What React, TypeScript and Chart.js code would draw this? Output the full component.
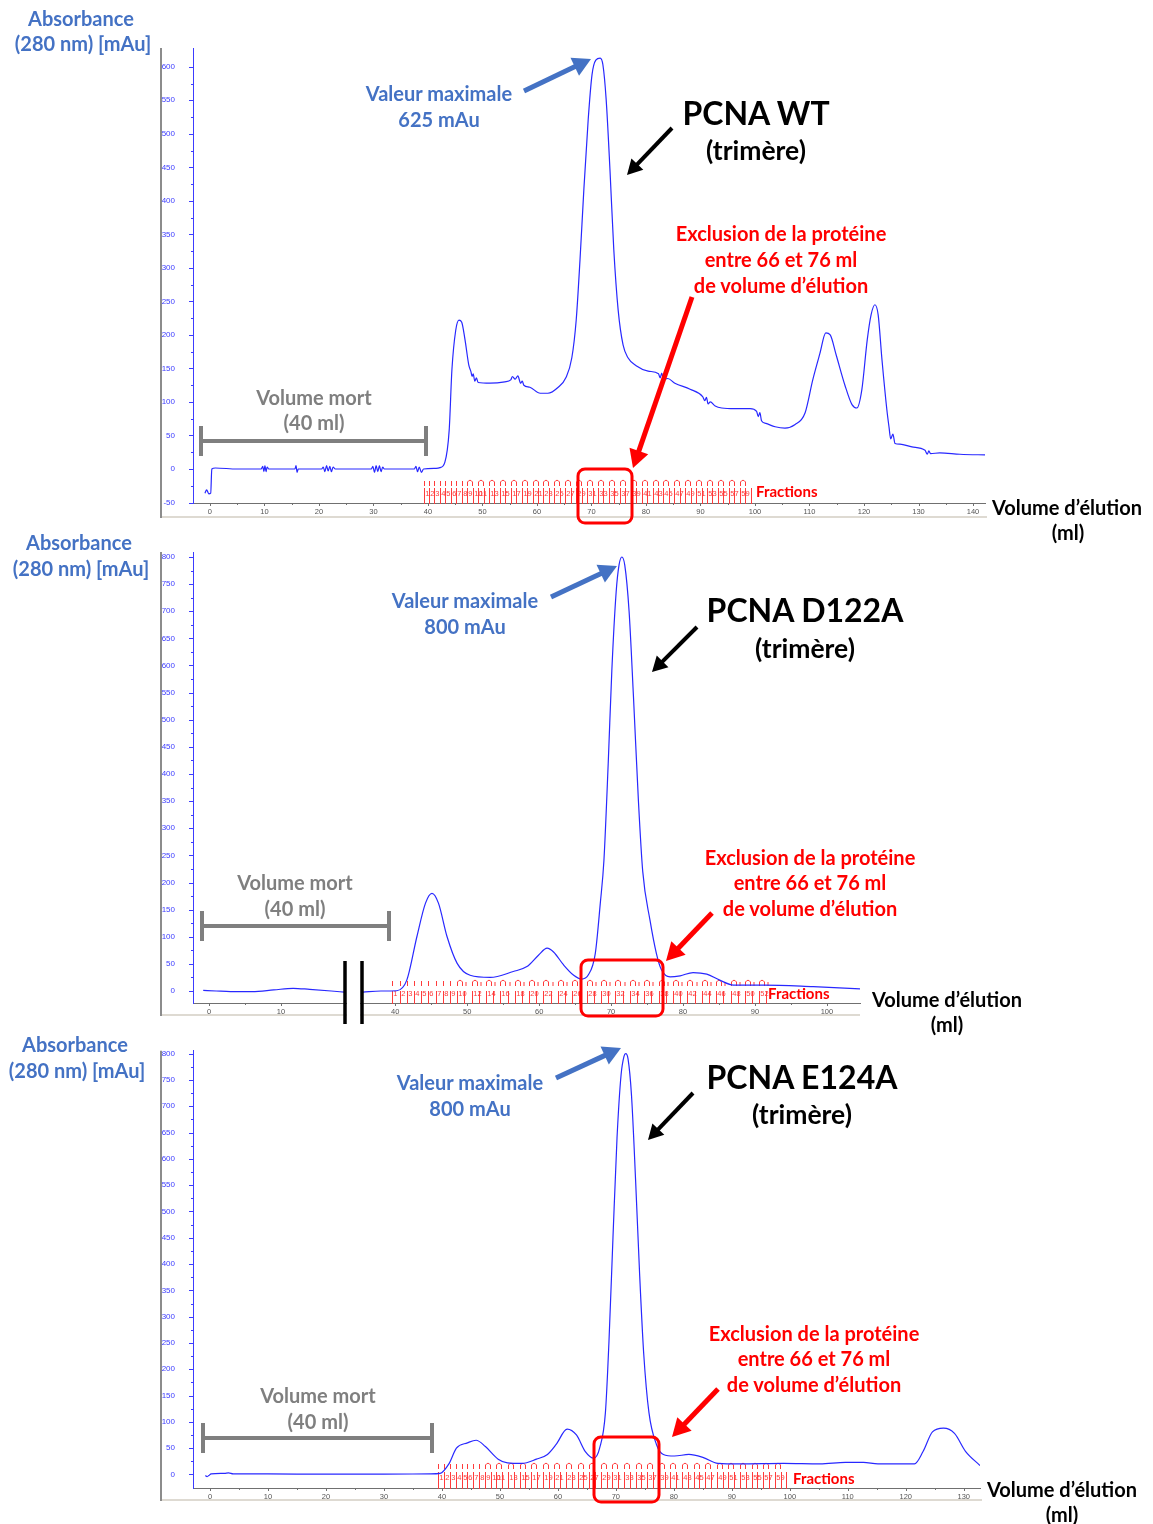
import React, { useEffect, useRef } from "react";
import { Chart, registerables } from "chart.js";

Chart.register(...registerables);

// ================= DATA =================
// ---- PCNA WT ----
const wtVolume = [
  -0.9, -0.6, -0.2, 0.15, 0.35, 1, 5,
  9.4, 9.7, 9.9, 10.1, 10.3, 10.5, 10.8,
  15.6, 15.8, 16.0, 16.2,
  20.5, 20.8, 21.1, 21.4, 21.7, 22.0, 22.3, 22.6, 23.0,
  29.6, 29.9, 30.2, 30.5, 30.8, 31.1, 31.4, 31.7, 32.0,
  37.5, 37.8, 38.1, 38.4, 38.8, 39.2,
  41.5, 42.2, 43.1, 43.9, 44.4, 45.1, 45.7, 46.2, 46.8, 47.5, 47.9, 48.1, 48.3, 48.6, 48.9, 49.2,
  51.4, 54.1, 55.2, 55.5, 56.0, 56.5, 57.0, 57.3, 57.6, 58.7, 60.6, 62.0, 63.9, 65.3,
  66.4, 67.2, 67.9, 68.6, 69.4, 70.1, 70.8, 71.6, 72.1, 72.7, 73.4, 74.1, 74.9, 75.8, 76.7,
  78.2, 80.4, 82.3, 82.6, 82.9, 83.2, 84.0, 85.3, 88.1, 90.4, 90.8, 91.1, 91.4, 91.8, 92.7, 93.9,
  96.3, 99.1, 100.3, 100.6, 100.9, 101.2, 102.0, 103.7, 105.5, 107.3, 109.2, 110.6, 111.9, 113.0,
  113.8, 114.9, 116.5, 117.8, 118.7, 119.6, 120.6, 121.3, 122.0, 122.6, 123.3, 124.2, 124.6, 124.9,
  125.3, 125.7, 126.6, 128.8, 131.2, 131.6, 131.9, 132.2, 133.9, 137.6, 142.6,
];
const wtAbsorbance = [
  -36, -31, -37, -36, 0, 1.5, 0,
  0, 4, -4, 5, -4, 3, 0,
  0, 5, -5, 0,
  0, 3, -4, 5, -3, 4, -4, 3, 0,
  0, 4, -5, 5, -4, 5, -4, 3, 0,
  0, 4, -4, 3, -5, 0,
  1, 2, 10, 58, 148, 207, 222, 219, 193, 155, 145, 138, 142, 131, 136, 129,
  128, 130, 133, 138, 134, 139, 128, 131, 125, 122, 113, 113, 122, 136,
  166, 222, 312, 416, 521, 588, 610, 613, 603, 551, 446, 327, 237, 185, 166,
  154, 146, 142, 136, 143, 134, 135, 128, 119, 108, 102, 107, 97, 100, 94, 91,
  90, 90, 86, 78, 84, 72, 68, 63, 61, 66, 84, 133, 172, 203,
  200, 170, 125, 96, 91, 118, 193, 230, 245, 230, 163, 88, 62, 45,
  52, 38, 37, 33, 28, 22, 27, 23, 24, 22, 21,
];
const wtYTicks = [-50, 0, 50, 100, 150, 200, 250, 300, 350, 400, 450, 500, 550, 600];
const wtXTicks = [0, 10, 20, 30, 40, 50, 60, 70, 80, 90, 100, 110, 120, 130, 140];
const wtFractionLabels = [
  1, 2, 3, 4, 5, 6, 7, 8, 9, 10, 11, 13, 15, 17, 19, 21, 23, 25, 27, 29, 31, 33, 35, 37, 39,
  41, 43, 45, 47, 49, 51, 53, 55, 57, 59,
];

// ---- PCNA D122A (axis broken between ~19 and ~35 ml) ----
const d122aVolume = [
  -0.8, 1, 3, 6, 9, 11.7, 14, 17, 18.8, 27,
  35.5, 38, 40.2, 41.6, 43, 44.2, 45.1, 46, 47.2, 48.6,
  50.4, 53.2, 56.4, 58.3, 59.9, 61.1, 62, 63.4, 64.8, 65.9,
  66.8, 67.8, 68.5, 69.0, 69.6, 70.1, 70.7, 71.1, 71.5, 71.9,
  72.5, 73.1, 73.8, 74.4, 75.4, 76.3, 77, 78.2, 79.6, 81.4,
  83.3, 85.1, 87, 91.2, 98.1, 104.6,
];
const d122aAbsorbance: (number | null)[] = [
  1, 0, -1, -1, 2, 5, 3, 0, -2, null,
  -2, 0, 0.5, 20, 100, 162, 180, 162, 100, 51,
  29, 25, 36, 45, 66, 79, 72, 48, 29, 22,
  29, 69, 162, 240, 420, 590, 735, 785, 800, 785,
  700, 545, 350, 220, 131, 69, 39, 26, 28, 34,
  31, 20, 11, 11, 8, 4,
];
const d122aYTicks = [0, 50, 100, 150, 200, 250, 300, 350, 400, 450, 500, 550, 600, 650, 700, 750, 800];
const d122aXTicks = [0, 10, 40, 50, 60, 70, 80, 90, 100];
const d122aFractionLabels = [
  1, 2, 3, 4, 5, 6, 7, 8, 9, 10, 12, 14, 16, 18, 20, 22, 24, 26, 28, 30, 32, 34, 36, 38, 40,
  42, 44, 46, 48, 50, 52,
];

// ---- PCNA E124A ----
const e124aVolume = [
  -0.8, -0.5, -0.2, 0.2, 2.5, 3.2, 4, 10, 20, 30,
  38, 39.7, 41.2, 42.5, 44.4, 45.9, 47.5, 49.7, 51.3, 53.8,
  56.3, 58.2, 59.7, 61.6, 63.2, 64.7, 66.2, 67.2, 68.2, 68.8,
  69.5, 70.2, 70.9, 71.4, 71.7, 72.1, 72.7, 73.4, 74.1, 74.8,
  75.7, 77, 78.2, 80.1, 82.6, 85.1, 87.6, 91.4, 98.9, 105.2,
  109.6, 112.7, 115.2, 121.5, 123, 124.6, 126.5, 128.4, 130.3, 132.8,
];
const e124aAbsorbance = [
  -2, -4, -2, 1, 2, 3, 1, 1, 0.5, 0.5,
  1, 2, 20, 50, 60, 65, 53, 29, 22, 21,
  29, 38, 57, 86, 75, 44, 31, 50, 118, 250,
  450, 640, 760, 795, 800, 790, 720, 560, 380, 230,
  118, 57, 38, 35, 38, 32, 21, 20, 21, 20,
  23, 23, 20, 20, 44, 81, 88, 78, 44, 17,
];
const e124aYTicks = [0, 50, 100, 150, 200, 250, 300, 350, 400, 450, 500, 550, 600, 650, 700, 750, 800];
const e124aXTicks = [0, 10, 20, 30, 40, 50, 60, 70, 80, 90, 100, 110, 120, 130];
const e124aFractionLabels = [
  1, 2, 3, 4, 5, 6, 7, 8, 9, 10, 11, 13, 15, 17, 19, 21, 23, 25, 27, 29, 31, 33, 35, 37, 39,
  41, 43, 45, 47, 49, 51, 53, 55, 57, 59,
];

// ================= LAYOUT / STYLE =================
const BLUE_TXT = "#4472C4";
const RED = "#FF0000";
const GRAY = "#7F7F7F";
const LINE_BLUE = "rgb(40,40,255)";
const AXIS_BLUE = "#3c3cff";
const FRAC_RED = "#ff3b3b";
const TICK_FONT = "'Liberation Sans', Arial, sans-serif";
const TEXT_FONT = "Lato, 'Open Sans', 'Noto Sans', sans-serif";

type Shape =
  | { kind: "arrow"; x1: number; y1: number; x2: number; y2: number; color: string; width: number; head: number }
  | { kind: "box"; x1: number; y1: number; x2: number; y2: number; color: string; width: number; radius: number }
  | { kind: "bracket"; x1: number; x2: number; y: number; cap: number; color: string; width: number }
  | { kind: "bar"; x: number; y1: number; y2: number; color: string; width: number; gap?: [number, number] };

interface Fractions {
  first: number;
  width: number;
  count: number;
  labels: number[];
  tickUntil: number;
  lineLen: number;
  labelOff: number;
  rowOff: number;
  arcTick: boolean;
}

interface Panel {
  top: number;
  height: number;
  padTop: number;
  padRight: number;
  padBottom: number;
  xAxisHeight: number;
  xMin: number;
  xMax: number;
  yMin: number;
  yMax: number;
  xTicks: number[];
  yTicks: number[];
  volume: number[];
  absorbance: (number | null)[];
  mapX: (v: number) => number;
  fractions: Fractions;
  frameBottom: number;
  frameRight: number;
  shapes: Shape[];
}

const identity = (v: number) => v;
// broken axis for D122A: 18.9..35.4 ml compressed into 2.4 ml of width
const brokenX = (v: number) => (v < 27 ? v : v - 14.1);

const panels: Panel[] = [
  {
    top: 0, height: 527, padTop: 48, padRight: 168, padBottom: 10, xAxisHeight: 14,
    xMin: -3.1, xMax: 142.2, yMin: -50.7, yMax: 628,
    xTicks: wtXTicks, yTicks: wtYTicks, volume: wtVolume, absorbance: wtAbsorbance, mapX: identity,
    fractions: { first: 39.2, width: 1, count: 60, labels: wtFractionLabels, tickUntil: 8, lineLen: 15, labelOff: 9, rowOff: 23, arcTick: false },
    frameBottom: 517, frameRight: 987,
    shapes: [
      { kind: "arrow", x1: 524, y1: 91, x2: 591, y2: 59, color: BLUE_TXT, width: 5, head: 18 },
      { kind: "arrow", x1: 672, y1: 128, x2: 627, y2: 175, color: "#000", width: 4, head: 15 },
      { kind: "arrow", x1: 692, y1: 297, x2: 633, y2: 468, color: RED, width: 5, head: 18 },
      { kind: "box", x1: 578, y1: 469, x2: 632, y2: 523, color: RED, width: 3, radius: 7 },
      { kind: "bracket", x1: 201, x2: 426, y: 441, cap: 15, color: GRAY, width: 4 },
    ],
  },
  {
    top: 527, height: 501, padTop: 25, padRight: 293, padBottom: 13, xAxisHeight: 12,
    xMin: -2.22, xMax: 90.5, yMin: -22.1, yMax: 809.2,
    xTicks: d122aXTicks, yTicks: d122aYTicks, volume: d122aVolume, absorbance: d122aAbsorbance, mapX: brokenX,
    fractions: { first: 39.6, width: 1, count: 52, labels: d122aFractionLabels, tickUntil: 9, lineLen: 12, labelOff: 9, rowOff: 23, arcTick: true },
    frameBottom: 1015, frameRight: 860,
    shapes: [
      { kind: "arrow", x1: 551, y1: 597, x2: 617, y2: 566, color: BLUE_TXT, width: 5, head: 18 },
      { kind: "arrow", x1: 697, y1: 627, x2: 652, y2: 672, color: "#000", width: 4, head: 15 },
      { kind: "arrow", x1: 712, y1: 913, x2: 666, y2: 961, color: RED, width: 5, head: 18 },
      { kind: "box", x1: 581, y1: 960, x2: 663, y2: 1016, color: RED, width: 3, radius: 7 },
      { kind: "bracket", x1: 202, x2: 389, y: 926, cap: 15, color: GRAY, width: 4 },
      { kind: "bar", x: 345, y1: 961, y2: 1024, color: "#000", width: 3.5, gap: [347, 360] },
      { kind: "bar", x: 362, y1: 961, y2: 1024, color: "#000", width: 3.5 },
    ],
  },
  {
    top: 1028, height: 496, padTop: 9, padRight: 173, padBottom: 24, xAxisHeight: 12,
    xMin: -2.93, xMax: 132.8, yMin: -25.8, yMax: 805.5,
    xTicks: e124aXTicks, yTicks: e124aYTicks, volume: e124aVolume, absorbance: e124aAbsorbance, mapX: identity,
    fractions: { first: 39.4, width: 1, count: 60, labels: e124aFractionLabels, tickUntil: 8, lineLen: 16, labelOff: 10, rowOff: 25, arcTick: false },
    frameBottom: 1500, frameRight: 982,
    shapes: [
      { kind: "arrow", x1: 556, y1: 1078, x2: 621, y2: 1048, color: BLUE_TXT, width: 5, head: 18 },
      { kind: "arrow", x1: 693, y1: 1093, x2: 648, y2: 1140, color: "#000", width: 4, head: 15 },
      { kind: "arrow", x1: 718, y1: 1389, x2: 672, y2: 1437, color: RED, width: 5, head: 18 },
      { kind: "box", x1: 594, y1: 1437, x2: 659, y2: 1502, color: RED, width: 3, radius: 7 },
      { kind: "bracket", x1: 203, x2: 432, y: 1438, cap: 15, color: GRAY, width: 4 },
    ],
  },
];

interface Label { t: string; x: number; y: number; s: number; c: string; left?: boolean }
const S = 20; // annotation font size
const labels: Label[] = [
  // panel 1
  { t: "Absorbance", x: 81, y: 18, s: S, c: BLUE_TXT },
  { t: "(280 nm) [mAu]", x: 83, y: 43, s: S, c: BLUE_TXT },
  { t: "Valeur maximale", x: 439, y: 93, s: S, c: BLUE_TXT },
  { t: "625 mAu", x: 439, y: 119, s: S, c: BLUE_TXT },
  { t: "PCNA WT", x: 756, y: 113, s: 32, c: "#000" },
  { t: "(trimère)", x: 756, y: 150, s: 26.5, c: "#000" },
  { t: "Exclusion de la protéine", x: 781, y: 233, s: S, c: RED },
  { t: "entre 66 et 76 ml", x: 781, y: 259, s: S, c: RED },
  { t: "de volume d’élution", x: 781, y: 285, s: S, c: RED },
  { t: "Volume mort", x: 314, y: 397, s: S, c: GRAY },
  { t: "(40 ml)", x: 314, y: 422, s: S, c: GRAY },
  { t: "Fractions", x: 756, y: 491, s: 15, c: RED, left: true },
  { t: "Volume d’élution", x: 992, y: 507, s: S, c: "#000", left: true },
  { t: "(ml)", x: 1068, y: 532, s: S, c: "#000" },
  // panel 2
  { t: "Absorbance", x: 79, y: 542, s: S, c: BLUE_TXT },
  { t: "(280 nm) [mAu]", x: 81, y: 568, s: S, c: BLUE_TXT },
  { t: "Valeur maximale", x: 465, y: 600, s: S, c: BLUE_TXT },
  { t: "800 mAu", x: 465, y: 626, s: S, c: BLUE_TXT },
  { t: "PCNA D122A", x: 805, y: 610, s: 32, c: "#000" },
  { t: "(trimère)", x: 805, y: 648, s: 26.5, c: "#000" },
  { t: "Exclusion de la protéine", x: 810, y: 857, s: S, c: RED },
  { t: "entre 66 et 76 ml", x: 810, y: 882, s: S, c: RED },
  { t: "de volume d’élution", x: 810, y: 908, s: S, c: RED },
  { t: "Volume mort", x: 295, y: 882, s: S, c: GRAY },
  { t: "(40 ml)", x: 295, y: 908, s: S, c: GRAY },
  { t: "Fractions", x: 768, y: 993, s: 15, c: RED, left: true },
  { t: "Volume d’élution", x: 872, y: 999, s: S, c: "#000", left: true },
  { t: "(ml)", x: 947, y: 1024, s: S, c: "#000" },
  // panel 3
  { t: "Absorbance", x: 75, y: 1044, s: S, c: BLUE_TXT },
  { t: "(280 nm) [mAu]", x: 77, y: 1070, s: S, c: BLUE_TXT },
  { t: "Valeur maximale", x: 470, y: 1082, s: S, c: BLUE_TXT },
  { t: "800 mAu", x: 470, y: 1108, s: S, c: BLUE_TXT },
  { t: "PCNA E124A", x: 802, y: 1077, s: 32, c: "#000" },
  { t: "(trimère)", x: 802, y: 1114, s: 26.5, c: "#000" },
  { t: "Exclusion de la protéine", x: 814, y: 1333, s: S, c: RED },
  { t: "entre 66 et 76 ml", x: 814, y: 1358, s: S, c: RED },
  { t: "de volume d’élution", x: 814, y: 1384, s: S, c: RED },
  { t: "Volume mort", x: 318, y: 1395, s: S, c: GRAY },
  { t: "(40 ml)", x: 318, y: 1421, s: S, c: GRAY },
  { t: "Fractions", x: 793, y: 1478, s: 15, c: RED, left: true },
  { t: "Volume d’élution", x: 987, y: 1489, s: S, c: "#000", left: true },
  { t: "(ml)", x: 1062, y: 1514, s: S, c: "#000" },
];

// ================= DRAWING HELPERS =================
function drawShape(ctx: CanvasRenderingContext2D, s: Shape) {
  ctx.save();
  if (s.kind === "arrow") {
    const dx = s.x2 - s.x1, dy = s.y2 - s.y1;
    const len = Math.hypot(dx, dy);
    const ux = dx / len, uy = dy / len;
    const bx = s.x2 - ux * s.head, by = s.y2 - uy * s.head;
    const hw = s.head * 0.55;
    ctx.strokeStyle = s.color;
    ctx.fillStyle = s.color;
    ctx.lineWidth = s.width;
    ctx.beginPath();
    ctx.moveTo(s.x1, s.y1);
    ctx.lineTo(bx + ux, by + uy);
    ctx.stroke();
    ctx.beginPath();
    ctx.moveTo(s.x2, s.y2);
    ctx.lineTo(bx - uy * hw, by + ux * hw);
    ctx.lineTo(bx + uy * hw, by - ux * hw);
    ctx.closePath();
    ctx.fill();
  } else if (s.kind === "box") {
    const r = s.radius;
    ctx.strokeStyle = s.color;
    ctx.lineWidth = s.width;
    ctx.beginPath();
    ctx.moveTo(s.x1 + r, s.y1);
    ctx.arcTo(s.x2, s.y1, s.x2, s.y2, r);
    ctx.arcTo(s.x2, s.y2, s.x1, s.y2, r);
    ctx.arcTo(s.x1, s.y2, s.x1, s.y1, r);
    ctx.arcTo(s.x1, s.y1, s.x2, s.y1, r);
    ctx.closePath();
    ctx.stroke();
  } else if (s.kind === "bracket") {
    ctx.strokeStyle = s.color;
    ctx.lineWidth = s.width;
    ctx.beginPath();
    ctx.moveTo(s.x1, s.y);
    ctx.lineTo(s.x2, s.y);
    ctx.moveTo(s.x1, s.y - s.cap);
    ctx.lineTo(s.x1, s.y + s.cap);
    ctx.moveTo(s.x2, s.y - s.cap);
    ctx.lineTo(s.x2, s.y + s.cap);
    ctx.stroke();
  } else if (s.kind === "bar") {
    if (s.gap) {
      ctx.fillStyle = "#fff";
      ctx.fillRect(s.gap[0], s.y1 + 20, s.gap[1] - s.gap[0], s.y2 - s.y1 - 20);
    }
    ctx.strokeStyle = s.color;
    ctx.lineWidth = s.width;
    ctx.beginPath();
    ctx.moveTo(s.x, s.y1);
    ctx.lineTo(s.x, s.y2);
    ctx.stroke();
  }
  ctx.restore();
}

function midpoints(ticks: number[]): number[] {
  const out: number[] = [];
  for (let i = 0; i + 1 < ticks.length; i++) {
    if (ticks[i + 1] - ticks[i] <= 50 && ticks[i + 1] - ticks[i] !== 30) out.push((ticks[i] + ticks[i + 1]) / 2);
  }
  return out;
}

function makeDecor(p: Panel) {
  return {
    id: "decor",
    beforeDatasetsDraw(chart: any) {
      const ctx: CanvasRenderingContext2D = chart.ctx;
      const xs = chart.scales.x;
      const ys = chart.scales.y;
      const area = chart.chartArea;
      ctx.save();
      // outer frame
      ctx.strokeStyle = "#dedad2";
      ctx.lineWidth = 2;
      ctx.beginPath();
      ctx.moveTo(161, p.frameBottom - p.top);
      ctx.lineTo(p.frameRight, p.frameBottom - p.top);
      ctx.stroke();
      ctx.strokeStyle = "#8c8c8c";
      ctx.lineWidth = 2;
      ctx.beginPath();
      ctx.moveTo(161, area.top);
      ctx.lineTo(161, p.frameBottom - p.top + 1);
      ctx.stroke();

      // y ticks
      ctx.strokeStyle = AXIS_BLUE;
      ctx.lineWidth = 1;
      ctx.beginPath();
      for (const t of p.yTicks) {
        const y = Math.round(ys.getPixelForValue(t)) + 0.5;
        ctx.moveTo(area.left - 4, y);
        ctx.lineTo(area.left, y);
      }
      for (const t of midpoints(p.yTicks)) {
        const y = Math.round(ys.getPixelForValue(t)) + 0.5;
        ctx.moveTo(area.left - 2, y);
        ctx.lineTo(area.left, y);
      }
      ctx.stroke();

      // x ticks
      ctx.strokeStyle = "#707070";
      ctx.beginPath();
      for (const t of p.xTicks) {
        const x = Math.round(xs.getPixelForValue(p.mapX(t))) + 0.5;
        ctx.moveTo(x, area.bottom);
        ctx.lineTo(x, area.bottom + 3);
      }
      for (const t of midpoints(p.xTicks)) {
        const x = Math.round(xs.getPixelForValue(p.mapX(t))) + 0.5;
        ctx.moveTo(x, area.bottom);
        ctx.lineTo(x, area.bottom + 2);
      }
      ctx.stroke();

      // fractions
      const f = p.fractions;
      const ax = area.bottom;
      const fx = (n: number) => Math.round(xs.getPixelForValue(p.mapX(f.first + (n - 1) * f.width))) + 0.5;
      ctx.strokeStyle = FRAC_RED;
      ctx.fillStyle = FRAC_RED;
      ctx.lineWidth = 1;
      ctx.beginPath();
      for (let n = 1; n <= f.count + 1; n++) {
        const x = fx(n);
        ctx.moveTo(x, ax + 1);
        ctx.lineTo(x, ax - f.lineLen);
      }
      const rowTop = ax - f.rowOff;
      for (let n = 1; n <= f.count; n++) {
        const x = fx(n);
        if (n <= f.tickUntil) {
          ctx.moveTo(x, rowTop + 1);
          ctx.lineTo(x, rowTop + 6);
        } else if ((n - f.tickUntil - 1) % 2 === 0) {
          const w = 5;
          ctx.moveTo(x, rowTop + 6);
          ctx.lineTo(x, rowTop + 2);
          ctx.quadraticCurveTo(x + w / 2, rowTop - 1.5, x + w, rowTop + 2);
          ctx.lineTo(x + w, rowTop + 6);
          if (f.arcTick) {
            const xt = fx(n + 1) + 1.5;
            ctx.moveTo(xt, rowTop + 2);
            ctx.lineTo(xt, rowTop + 6);
          }
        }
      }
      ctx.stroke();
      ctx.font = `7.5px ${TICK_FONT}`;
      ctx.textAlign = "left";
      ctx.textBaseline = "middle";
      for (const n of f.labels) {
        ctx.fillText(String(n), fx(n) + 0.8, ax - f.labelOff);
      }
      ctx.restore();
    },
    afterDraw(chart: any) {
      const ctx: CanvasRenderingContext2D = chart.ctx;
      ctx.save();
      ctx.translate(0, -p.top);
      for (const s of p.shapes) drawShape(ctx, s);
      ctx.restore();
    },
  };
}

function PanelChart({ p }: { p: Panel }) {
  const ref = useRef<HTMLCanvasElement>(null);
  useEffect(() => {
    const canvas = ref.current;
    if (!canvas) return;
    const points = p.volume.map((v, i) => ({ x: p.mapX(v), y: p.absorbance[i] }));
    const chart = new Chart(canvas, {
      type: "line",
      data: {
        datasets: [
          {
            data: points as any,
            borderColor: LINE_BLUE,
            borderWidth: 1.2,
            pointRadius: 0,
            fill: false,
            spanGaps: false,
            cubicInterpolationMode: "monotone",
          },
        ],
      },
      options: {
        animation: false,
        responsive: false,
        events: [],
        layout: { padding: { left: 161, top: p.padTop, right: p.padRight, bottom: p.padBottom } },
        plugins: { legend: { display: false }, tooltip: { enabled: false } },
        scales: {
          x: {
            type: "linear",
            min: p.xMin,
            max: p.xMax,
            grid: { display: false, drawTicks: false, tickLength: 0 },
            border: { display: true, color: "#707070", width: 1 },
            ticks: {
              autoSkip: false,
              maxRotation: 0,
              padding: 4,
              color: "#555",
              font: { family: TICK_FONT, size: 7.5 },
              callback: (_v: any, i: number) => String(p.xTicks[i]),
            },
            afterBuildTicks: (s: any) => {
              s.ticks = p.xTicks.map((t) => ({ value: p.mapX(t) }));
            },
            afterFit: (s: any) => {
              s.height = p.xAxisHeight;
            },
          },
          y: {
            type: "linear",
            min: p.yMin,
            max: p.yMax,
            grid: { display: false, drawTicks: false, tickLength: 0 },
            border: { display: true, color: AXIS_BLUE, width: 1 },
            ticks: {
              autoSkip: false,
              padding: 18,
              color: AXIS_BLUE,
              font: { family: TICK_FONT, size: 8 },
              callback: (v: any) => String(v),
            },
            afterBuildTicks: (s: any) => {
              s.ticks = p.yTicks.map((t) => ({ value: t }));
            },
            afterFit: (s: any) => {
              s.width = 32;
            },
          },
        },
      },
      plugins: [makeDecor(p)],
    });
    return () => chart.destroy();
  }, [p]);
  return (
    <canvas
      ref={ref}
      width={1153}
      height={p.height}
      style={{ position: "absolute", left: 0, top: p.top, width: 1153, height: p.height }}
    />
  );
}

export default function App() {
  return (
    <div style={{ position: "absolute", left: 0, top: 0, width: 1153, height: 1524, background: "#fff", overflow: "hidden" }}>
      {panels.map((p, i) => (
        <PanelChart key={i} p={p} />
      ))}
      {labels.map((l, i) => (
        <div
          key={i}
          style={{
            position: "absolute",
            left: l.x,
            top: l.y,
            transform: l.left ? "translate(0,-50%)" : "translate(-50%,-50%)",
            fontFamily: TEXT_FONT,
            fontWeight: 700,
            fontSize: l.s,
            color: l.c,
            whiteSpace: "nowrap",
            lineHeight: 1,
          }}
        >
          {l.t}
        </div>
      ))}
    </div>
  );
}
